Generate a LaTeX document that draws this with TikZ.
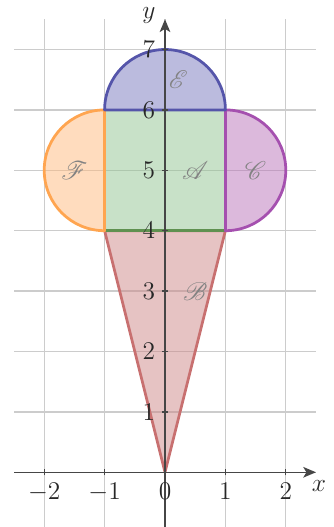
\documentclass[tikz,border=0pt]{standalone}
\usepackage{mathrsfs}
\usetikzlibrary{arrows.meta}
\definecolor{gridc}{RGB}{204,204,204}
\definecolor{axisc}{RGB}{70,70,70}
\definecolor{txtc}{RGB}{40,40,40}
\definecolor{lblc}{RGB}{130,130,130}
\definecolor{Aline}{RGB}{95,145,80}
\definecolor{Afill}{RGB}{145,195,145}
\definecolor{Bline}{RGB}{200,112,112}
\definecolor{Bfill}{RGB}{205,135,135}
\definecolor{Cline}{RGB}{165,80,175}
\definecolor{Cfill}{RGB}{185,115,185}
\definecolor{Eline}{RGB}{85,85,170}
\definecolor{Efill}{RGB}{119,119,189}
\definecolor{Fline}{RGB}{255,165,80}
\definecolor{Ffill}{RGB}{255,185,125}
\tikzset{
  region/.style={line width=1.3pt, line join=round, fill opacity=0.5},
  axisline/.style={axisc, line width=0.7pt, -{Stealth[length=6pt,width=5pt,inset=1.5pt]}},
  tickline/.style={axisc, line width=0.6pt},
  ticklabel/.style={text=txtc, inner sep=2pt},
  setlabel/.style={text=lblc}
}
\begin{document}
\begin{tikzpicture}[x=1cm,y=1cm,font=\fontsize{13}{15}\selectfont]
\useasboundingbox (-2.732,-0.906) rectangle (2.798,7.82);
\clip (-2.732,-0.906) rectangle (2.798,7.82);
\draw[gridc, line width=0.6pt] (-2.5,-1) grid (2.5,7.5);
% regions
\filldraw[region, draw=Bline, fill=Bfill] (-1,4) -- (0,0) -- (1,4) -- cycle;
\filldraw[region, draw=Aline, fill=Afill] (-1,4) rectangle (1,6);
\filldraw[region, draw=Fline, fill=Ffill] (-1,6) arc[start angle=90, end angle=270, radius=1] -- cycle;
\filldraw[region, draw=Cline, fill=Cfill] (1,6) arc[start angle=90, end angle=-90, radius=1] -- cycle;
\filldraw[region, draw=Eline, fill=Efill] (-1,6) arc[start angle=180, end angle=0, radius=1] -- cycle;
% axes
\coordinate (xs) at (-2.5,0);
\coordinate (xe) at (2.5,0);
\coordinate (ys) at (0,-1);
\coordinate (ye) at (0,7.5);
\draw[axisline] (xs) -- (xe);
\draw[axisline] (ys) -- (ye);
\node[text=txtc, below=0.5pt] (xl) at (2.55,0) {$x$};
\node[text=txtc, left=1pt, yshift=2pt] (yl) at (ye) {$y$};
% ticks
\foreach \i in {-2,-1,1,2} {
  \draw[tickline] (\i,-0.05) -- (\i,0.05);
}
\foreach \i in {1,...,7} {
  \draw[tickline] (-0.05,\i) -- (0.05,\i);
}
\foreach \i in {-2,-1,0,1,2} {
  \node[ticklabel, below=3pt] (tx\i) at (\i,0) {$\i$};
}
\foreach \i in {1,...,7} {
  \node[ticklabel, left=2.5pt] (ty\i) at (0,\i) {$\i$};
}
% set labels
\node[setlabel] (lA) at (0.5,5) {$\mathscr{A}$};
\node[setlabel] (lB) at (0.5,3) {$\mathscr{B}$};
\node[setlabel] (lC) at (1.5,5) {$\mathscr{C}$};
\node[setlabel] (lE) at (0.22,6.5) {$\mathscr{E}$};
\node[setlabel] (lF) at (-1.5,5) {$\mathscr{F}$};
\end{tikzpicture}
\end{document}
